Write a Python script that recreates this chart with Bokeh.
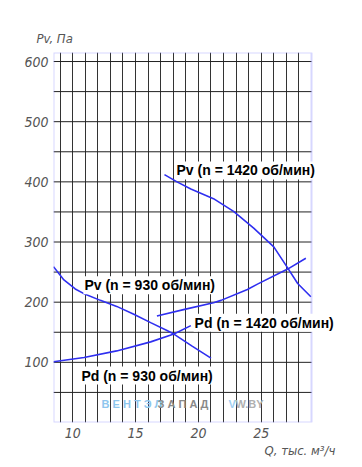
from bokeh.plotting import figure
from bokeh.models import Label, FixedTicker, Range1d, BoxAnnotation, Title
from bokeh.embed import file_html
from bokeh.resources import INLINE

# ---- data ----
q_pv1420 = [17.3, 18.3, 19.4, 21.2, 22.8, 24.4, 26.0, 27.1, 27.9, 28.95]
p_pv1420 = [412, 400, 388, 372, 351, 323, 292, 257, 231, 209]

q_pd1420 = [16.7, 18.9, 21.2, 21.8, 23.9, 24.7, 27.1, 28.55]
p_pd1420 = [177, 188, 199, 203, 221, 230, 255, 273]

q_pv930 = [8.47, 9.3, 10.2, 11.0, 12.2, 13.5, 14.86, 16.2, 17.5, 18.05, 19.5, 21.0]
p_pv930 = [259, 237, 222, 213, 203, 193, 180, 166, 153, 147, 127, 107]

q_pd930 = [8.47, 10.9, 13.5, 16.2, 18.05, 19.4]
p_pd930 = [101, 108, 119, 134, 147, 161]

x_ticks = [10, 15, 20, 25]
y_ticks = [100, 200, 300, 400, 500, 600]
x_grid = list(range(9, 29))
y_grid = list(range(50, 601, 50))

X_MIN, X_MAX = 8.47, 29.0      # chart box extent in Q
Y_MIN, Y_MAX = 0, 615          # chart box extent in Pv

AX_FONT = "DejaVu Sans Condensed"
CURVE = "#2f2ff0"
FRAME = "#7a7aff"

# frame runs to the right edge of the canvas so that labels can overhang the box
W, H = 362, 467
LEFT, RIGHT_BOX, TOP, BOTTOM = 53, 311, 52, 422
x_view_max = X_MIN + (X_MAX - X_MIN) * (W - LEFT) / (RIGHT_BOX - LEFT)

p = figure(width=W, height=H, output_backend="svg", toolbar_location=None,
           x_range=Range1d(X_MIN, x_view_max), y_range=Range1d(Y_MIN, Y_MAX),
           min_border_left=LEFT, min_border_right=0, min_border_top=TOP,
           min_border_bottom=H - BOTTOM)
p.background_fill_color = "white"
p.border_fill_color = "white"
p.outline_line_color = None

for ax, ticks in ((p.xaxis[0], x_ticks), (p.yaxis[0], y_ticks)):
    ax.ticker = FixedTicker(ticks=ticks)
    ax.axis_line_color = None
    ax.major_tick_line_color = None
    ax.minor_tick_line_color = None
    ax.major_tick_out = 0
    ax.major_tick_in = 0
    ax.minor_tick_out = 0
    ax.major_label_text_font = AX_FONT
    ax.major_label_text_font_style = "italic"
    ax.major_label_text_font_size = "14px"
    ax.major_label_text_color = "#555555"
    ax.major_label_standoff = 5

# vertical grid lines from the grid, horizontal ones limited to the box
p.xgrid.ticker = FixedTicker(ticks=x_grid)
p.xgrid.grid_line_color = "#333333"
p.xgrid.grid_line_width = 1
p.ygrid.grid_line_color = None
p.segment(x0=[X_MIN] * len(y_grid), x1=[X_MAX] * len(y_grid),
          y0=y_grid, y1=y_grid, line_color="#222222", line_width=1)

for qs, ps in ((q_pv1420, p_pv1420), (q_pd1420, p_pd1420),
               (q_pv930, p_pv930), (q_pd930, p_pd930)):
    p.line(qs, ps, line_color=CURVE, line_width=1.6)

p.add_layout(BoxAnnotation(left=X_MIN, right=X_MAX, bottom=Y_MIN, top=Y_MAX,
                           fill_color=None, fill_alpha=0,
                           line_color=FRAME, line_width=2))

def curve_label(x, y, text):
    p.add_layout(Label(x=x, y=y, text=text, text_font="Liberation Sans",
                       text_font_style="bold", text_font_size="14px",
                       text_color="black", text_baseline="middle",
                       text_align="left", background_fill_color="white",
                       padding=1))

curve_label(18.18, 419, "Pv (n = 1420 об/мин)")
curve_label(10.85, 228, "Pv (n = 930 об/мин)")
curve_label(19.62, 166, "Pd (n = 1420 об/мин)")
curve_label(10.61, 78, "Pd (n = 930 об/мин)")

def wm(x, text, color):
    p.add_layout(Label(x=x, y=30, text=text, text_font="Liberation Sans",
                       text_font_style="bold", text_font_size="11px",
                       text_color=color, text_baseline="middle",
                       text_align="left"))

wm(12.29, "В Е Н Т Э Л", "#8ec6ee")
wm(16.75, "З А П А Д", "#8a8a8a")
wm(22.4, "V", "#9fd0f2")
wm(22.95, "W.BY", "#b0b0b0")

# axis captions as titles (outside the plotting frame)
p.add_layout(Title(text="Pv, Па", align="left", offset=-17, standoff=14,
                   text_font=AX_FONT, text_font_style="italic",
                   text_font_size="13px", text_color="#555555"), "above")
p.add_layout(Title(text="Q, тыс. м³/ч", align="left", offset=211, standoff=0,
                   text_font=AX_FONT, text_font_style="italic",
                   text_font_size="13px", text_color="#555555"), "below")

open("out.html", "w").write(file_html(p, INLINE))
